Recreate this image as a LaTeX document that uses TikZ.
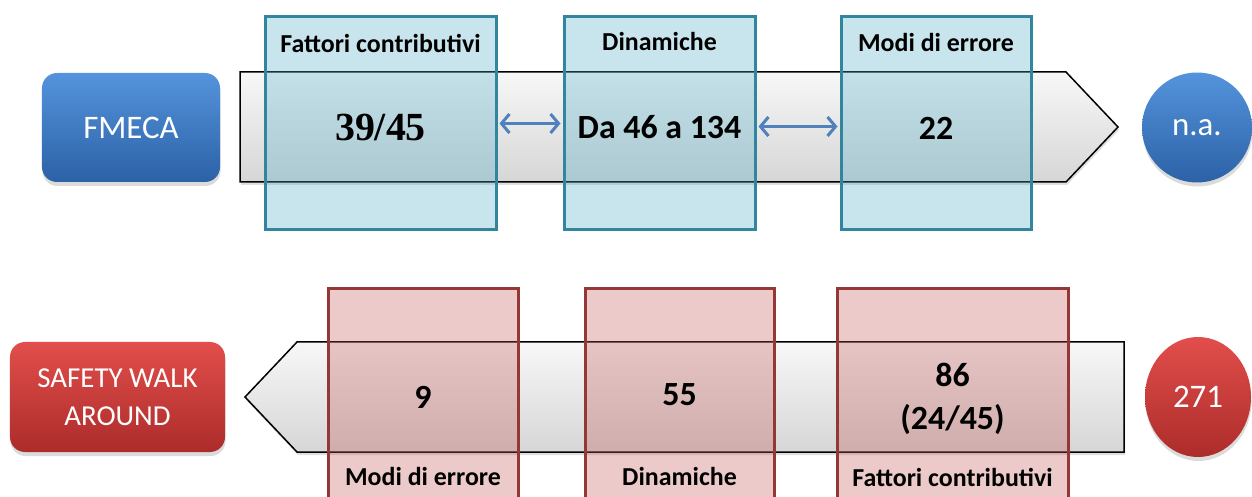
\documentclass[tikz,border=0pt]{standalone}
\usepackage{fontspec}
\setmainfont{Carlito}
\newfontfamily\numserif{Liberation Serif}
\usetikzlibrary{arrows.meta,shadows,shapes.geometric}

\definecolor{bluetop}{RGB}{84,148,220}
\definecolor{bluebot}{RGB}{44,97,166}
\definecolor{redtop}{RGB}{226,78,75}
\definecolor{redbot}{RGB}{172,44,42}
\definecolor{tealfill}{RGB}{75,172,198}
\definecolor{tealline}{RGB}{49,133,156}
\definecolor{rosefill}{RGB}{192,80,77}
\definecolor{roseline}{RGB}{149,55,53}
\definecolor{linkblue}{RGB}{79,129,189}

\tikzset{
  softshadow/.style={drop shadow={opacity=0.28,shadow xshift=0.5bp,shadow yshift=-4bp}},
  pillblue/.style={rounded corners=15bp,top color=bluetop,bottom color=bluebot,
    draw=none,text=white,softshadow,inner sep=0pt},
  pillred/.style={rounded corners=15bp,top color=redtop,bottom color=redbot,
    draw=none,text=white,softshadow,inner sep=0pt},
  orbblue/.style={circle,top color=bluetop,bottom color=bluebot,draw=none,
    text=white,softshadow,inner sep=0pt,font=\fontsize{33}{38}\selectfont},
  orbred/.style={ellipse,top color=redtop,bottom color=redbot,draw=none,
    text=white,softshadow,inner sep=0pt,font=\fontsize{33}{38}\selectfont},
  track/.style={draw=black,line width=1.5bp,top color=gray!6,bottom color=gray!32,
    drop shadow={opacity=0.25,shadow xshift=1bp,shadow yshift=-3bp}},
  tealbox/.style={rectangle,draw=tealline,line width=3bp,fill=tealfill,
    fill opacity=0.3,inner sep=0pt},
  rosebox/.style={rectangle,draw=roseline,line width=3bp,fill=rosefill,
    fill opacity=0.3,inner sep=0pt},
  lbl/.style={inner sep=0pt,text=black,font=\fontsize{26}{30}\selectfont\bfseries},
  val/.style={inner sep=0pt,text=black,font=\fontsize{34}{43}\selectfont\bfseries},
  link/.style={draw=linkblue,line width=3bp,
    {Straight Barb[length=8bp,width=19bp]}-{Straight Barb[length=8bp,width=19bp]},
    shorten <=2bp,shorten >=2bp}
}

\begin{document}
\begin{tikzpicture}[x=1bp,y=-1bp]
\useasboundingbox (0,0) rectangle (1252,497);
\clip (0,0) rectangle (1252,497);
\fill[white] (0,0) rectangle (1252,497);

% ---- FMECA row ----
\node[pillblue,minimum width=178bp,minimum height=109bp,
      font=\fontsize{33}{38}\selectfont] (fmeca) at (131,127.5) {FMECA};
\path[track] (240,72) -- (1066,72) -- (1118,127) -- (1066,182) -- (240,182) -- cycle;

\node[tealbox,minimum width=231bp,minimum height=213bp] (tb1) at (380.5,123.5) {};
\node[tealbox,minimum width=191bp,minimum height=213bp] (tb2) at (659.5,123.5) {};
\node[tealbox,minimum width=190bp,minimum height=213bp] (tb3) at (936,123.5) {};

\node[lbl] (tl1) at (380.5,43) {Fattori contributivi};
\node[lbl] (tl2) at (659.5,42) {Dinamiche};
\node[lbl] (tl3) at (936,43) {Modi di errore};

\node[inner sep=0pt,font=\fontsize{40}{46}\selectfont\numserif\bfseries] (tv1) at (380.5,128) {39/45};
\node[val] (tv2) at (659.5,127) {Da 46 a 134};
\node[val] (tv3) at (936,128) {22};

\draw[link] (tb1.east) -- (tb2.west);
\draw[link] ([yshift=-3bp]tb2.east) -- ([yshift=-3bp]tb3.west);

\node[orbblue,minimum size=110bp] (na) at (1197,127.5) {n.a.};

% ---- Safety walk around row ----
\node[pillred,minimum width=215bp,minimum height=110bp,align=center,
      font=\fontsize{29}{38}\selectfont] (swa) at (117.5,397) {SAFETY WALK\\AROUND};
\path[track] (1124,342) -- (297,342) -- (245,397) -- (297,452) -- (1124,452) -- cycle;

\node[rosebox,minimum width=190bp,minimum height=231bp] (bb1) at (423,404.5) {};
\node[rosebox,minimum width=189bp,minimum height=231bp] (bb2) at (679.5,404.5) {};
\node[rosebox,minimum width=231bp,minimum height=231bp] (bb3) at (952.5,404.5) {};

\node[val] (bv1) at (423,397) {9};
\node[val] (bv2) at (679.5,395) {55};
\node[val,align=center] (bv3) at (952.5,399) {86\\(24/45)};

\node[lbl] (bl1) at (423,477) {Modi di errore};
\node[lbl] (bl2) at (679.5,477) {Dinamiche};
\node[lbl] (bl3) at (952.5,477) {Fattori contributivi};

\node[orbred,minimum width=106bp,minimum height=120bp] (tot) at (1198,397) {271};
\end{tikzpicture}
\end{document}
